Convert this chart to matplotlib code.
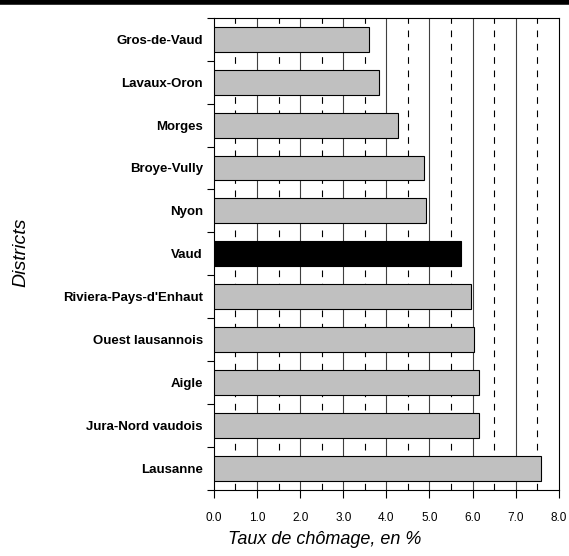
import numpy as np
import matplotlib.pyplot as plt
from matplotlib.lines import Line2D

# unemployment rate by district, in %
districts = ['Gros-de-Vaud', 'Lavaux-Oron', 'Morges', 'Broye-Vully', 'Nyon', 'Vaud',
             "Riviera-Pays-d'Enhaut", 'Ouest lausannois', 'Aigle', 'Jura-Nord vaudois',
             'Lausanne']
taux = [3.6, 3.84, 4.28, 4.88, 4.93, 5.74, 5.96, 6.03, 6.15, 6.15, 7.58]
highlight = 'Vaud'

plt.rcParams['font.family'] = ['Liberation Sans', 'DejaVu Sans']

fig = plt.figure(figsize=(5.69, 5.56), dpi=100)
ax = fig.add_axes([0.376, 0.119, 0.606, 0.849])

ypos = np.arange(len(districts))
colors = ['black' if d == highlight else '#c0c0c0' for d in districts]
ax.barh(ypos, taux, height=0.58, color=colors, edgecolor='black', linewidth=0.8, zorder=3)

ax.set_xlim(0, 8)
ax.set_ylim(len(districts) - 0.5, -0.5)

# grid: solid at integers, dashed at halves
for x in np.arange(1, 8):
    ax.axvline(x, color='#404040', lw=0.8, zorder=1)
for x in np.arange(0.5, 8, 1.0):
    ax.axvline(x, color='black', lw=0.8, ls=(0, (6, 6)), zorder=1)

ax.set_xticks(np.arange(0, 9))
ax.set_xticklabels(['%.1f' % v for v in np.arange(0, 9)], fontsize=8.5)
ax.tick_params(axis='x', direction='out', length=6, width=0.8, pad=10)

ax.set_yticks(ypos)
ax.set_yticklabels(districts, fontsize=9.5, fontweight='bold')
ax.set_yticks(np.arange(-0.5, len(districts)), minor=True)
ax.tick_params(axis='y', which='major', length=0, pad=8)
ax.tick_params(axis='y', which='minor', direction='out', length=5, width=0.8)

for s in ax.spines.values():
    s.set_linewidth(0.8)

fig.text(0.571, 0.029, 'Taux de chômage, en %', fontsize=13, style='italic',
         ha='center', va='center')
fig.text(0.037, 0.547, 'Districts', fontsize=14, style='italic', rotation=90,
         ha='center', va='center')

# thick rule at the top
fig.add_artist(Line2D([0, 1], [0.996, 0.996], color='black', lw=4, transform=fig.transFigure))

fig.savefig('out.png', dpi=100)
